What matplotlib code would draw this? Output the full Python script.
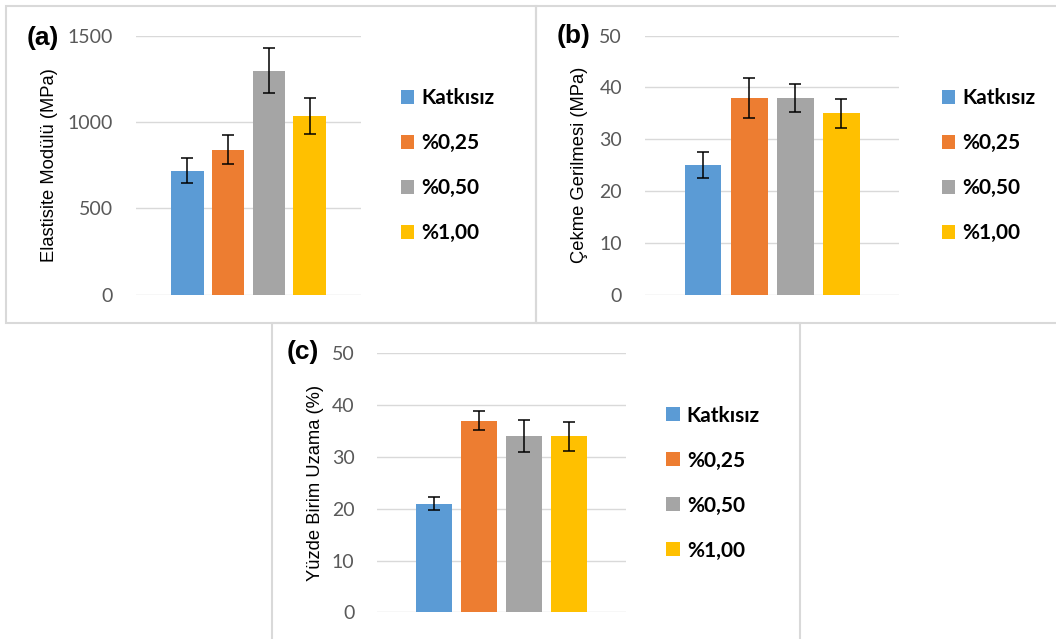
import matplotlib
matplotlib.use("Agg")
import matplotlib.pyplot as plt
from matplotlib.patches import Rectangle, Patch

# === 数据 ===
series_labels = ["Katkısız", "%0,25", "%0,50", "%1,00"]
colors = ["#5B9BD5", "#ED7D31", "#A5A5A5", "#FFC000"]

elastisite = [718, 840, 1297, 1036]
elastisite_err = [72, 84, 130, 104]

cekme = [25, 38, 38, 35]
cekme_err = [2.5, 3.8, 2.7, 2.8]

uzama = [21, 37, 34, 34]
uzama_err = [1.3, 1.9, 3.1, 2.8]

W, H = 1056, 639
fig = plt.figure(figsize=(W / 100, H / 100), dpi=100)
fig.patch.set_facecolor("white")

TICK_FONT = ["Lato", "DejaVu Sans"]
LABEL_FONT = ["Liberation Sans", "DejaVu Sans"]


def px_rect(x0, y0, x1, y1):
    # 像素坐标 -> figure 坐标
    return [x0 / W, 1 - y1 / H, (x1 - x0) / W, (y1 - y0) / H]


# 面板边框
for x0, y0, x1, y1 in [(6, 6, 536, 323), (536, 6, 1062, 323), (272, 323, 800, 645)]:
    fig.patches.append(Rectangle((x0 / W, 1 - y1 / H), (x1 - x0) / W, (y1 - y0) / H,
                                 transform=fig.transFigure, fill=False,
                                 edgecolor="#d9d9d9", linewidth=1.5, zorder=0))


def draw_panel(box, values, errs, ymax, step, ylabel, tag, tag_xy, label_x, legend_xy):
    ax = fig.add_axes(px_rect(*box))
    xs = range(len(values))
    ax.bar(xs, values, width=0.8, color=colors, zorder=2)
    ax.errorbar(xs, values, yerr=errs, fmt="none", ecolor="black",
                elinewidth=1.1, capsize=4.3, capthick=1.1, zorder=3)
    ax.set_xlim(-1.26, 4.26)
    ax.set_ylim(0, ymax)
    ax.set_yticks(range(0, ymax + 1, step))
    ax.set_xticks([])
    for s in ax.spines.values():
        s.set_visible(False)
    ax.grid(axis="y", color="#d9d9d9", linewidth=1.0, zorder=0)
    ax.set_axisbelow(True)
    ax.tick_params(axis="y", length=0, pad=16.5, labelcolor="#595959")
    for t in ax.get_yticklabels():
        t.set_fontfamily(TICK_FONT)
        t.set_fontsize(14)

    ax.text(label_x, 0.5, ylabel, transform=ax.transAxes, rotation=90,
            ha="center", va="center", fontsize=13.2, family=LABEL_FONT, color="black")
    fig.text(tag_xy[0] / W, 1 - tag_xy[1] / H, tag, ha="center", va="center",
             fontsize=19, fontweight="bold", family=LABEL_FONT)

    handles = [Patch(facecolor=c, edgecolor="none") for c in colors]
    fig.legend(handles, series_labels, loc="center left",
               bbox_to_anchor=(legend_xy[0] / W, 1 - legend_xy[1] / H),
               frameon=False, borderpad=0, borderaxespad=0,
               handlelength=0.65, handleheight=0.65, handletextpad=0.35,
               labelspacing=1.2,
               prop={"family": TICK_FONT, "weight": "bold", "size": 15})
    return ax


draw_panel((136, 35.7, 361, 294.7), elastisite, elastisite_err, 1500, 500,
           "Elastisite Modülü (MPa)", "(a)", (42.7, 37.5), (50 - 136) / 225, (400.7, 165.5))
draw_panel((645, 35.7, 899.3, 294.7), cekme, cekme_err, 50, 10,
           "Çekme Gerilmesi (MPa)", "(b)", (573.5, 36), (580 - 645) / 254.3, (941.7, 165.5))
draw_panel((377.3, 353.3, 625.7, 612.3), uzama, uzama_err, 50, 10,
           "Yüzde Birim Uzama (%)", "(c)", (303, 352), (315 - 377.3) / 248.4, (666, 483))

fig.savefig("out.png", dpi=100)
